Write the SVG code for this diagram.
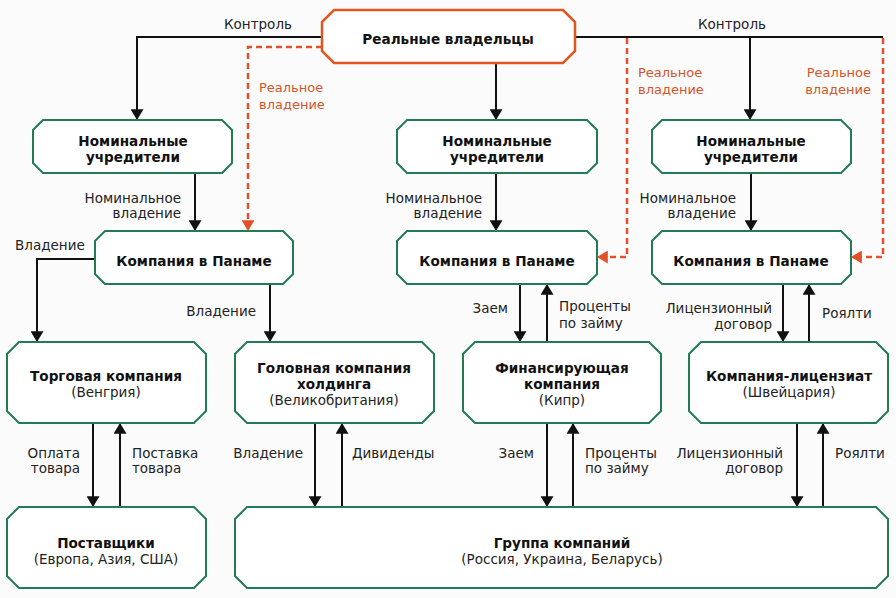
<svg xmlns="http://www.w3.org/2000/svg" width="896" height="598" viewBox="0 0 896 598">
<defs>
<style>
.bg{fill:#fbfbfb}
.node{fill:#ffffff;stroke:#237a57;stroke-width:2}
.top{fill:#ffffff;stroke:#e0561f;stroke-width:2.5}
.t{font-family:"DejaVu Sans",sans-serif;font-size:13.6px;font-weight:bold;fill:#111;text-anchor:middle}
.s{font-family:"DejaVu Sans",sans-serif;font-size:13.5px;fill:#222;text-anchor:middle}
.l{font-family:"DejaVu Sans",sans-serif;font-size:13.5px;fill:#222}
.r{text-anchor:end}
.red{font-family:"DejaVu Sans",sans-serif;font-size:13px;fill:#d2552a}
.c{fill:none;stroke:#111;stroke-width:2}
.d{fill:none;stroke:#e0502a;stroke-width:2.5;stroke-dasharray:6 4}
</style>
<marker id="a" viewBox="0 0 10 12" markerWidth="11" markerHeight="13" refX="10" refY="6" orient="auto" markerUnits="userSpaceOnUse">
<path d="M0,0 L10,6 L0,12 Z" fill="#111"/>
</marker>
<marker id="ar" viewBox="0 0 10 12" markerWidth="11" markerHeight="13" refX="10" refY="6" orient="auto" markerUnits="userSpaceOnUse">
<path d="M0,0 L10,6 L0,12 Z" fill="#e0502a"/>
</marker>
</defs>
<rect class="bg" x="0" y="0" width="896" height="598"/>

<g id="connectors">
<path class="c" d="M322,37 H137 V120" marker-end="url(#a)"/>
<path class="c" d="M575,37 H883"/>
<path class="c" d="M750,37 V120" marker-end="url(#a)"/>
<path class="c" d="M496,63 V120" marker-end="url(#a)"/>
<path class="d" d="M322,47 H248 V231" marker-end="url(#ar)"/>
<path class="d" d="M627,38 V257 H597" marker-end="url(#ar)"/>
<path class="d" d="M883,38 V257 H851" marker-end="url(#ar)"/>
<path class="c" d="M195,173 V231" marker-end="url(#a)"/>
<path class="c" d="M496,173 V231" marker-end="url(#a)"/>
<path class="c" d="M751,173 V231" marker-end="url(#a)"/>
<path class="c" d="M95,259 H37 V342" marker-end="url(#a)"/>
<path class="c" d="M270,284 V342" marker-end="url(#a)"/>
<path class="c" d="M520,284 V342" marker-end="url(#a)"/>
<path class="c" d="M547,342 V284" marker-end="url(#a)"/>
<path class="c" d="M783,284 V342" marker-end="url(#a)"/>
<path class="c" d="M809,342 V284" marker-end="url(#a)"/>
<path class="c" d="M93,423 V507" marker-end="url(#a)"/>
<path class="c" d="M120,507 V423" marker-end="url(#a)"/>
<path class="c" d="M315,423 V507" marker-end="url(#a)"/>
<path class="c" d="M342,507 V423" marker-end="url(#a)"/>
<path class="c" d="M547,423 V507" marker-end="url(#a)"/>
<path class="c" d="M573,507 V423" marker-end="url(#a)"/>
<path class="c" d="M797,423 V507" marker-end="url(#a)"/>
<path class="c" d="M823,507 V423" marker-end="url(#a)"/>

<text class="s" x="258" y="29">Контроль</text>
<text class="s" x="732" y="29">Контроль</text>
<text class="red" x="259" y="92">Реальное</text>
<text class="red" x="259" y="109">владение</text>
<text class="red" x="638" y="77">Реальное</text>
<text class="red" x="638" y="94">владение</text>
<text class="red r" x="871" y="77" text-anchor="end">Реальное</text>
<text class="red r" x="871" y="94" text-anchor="end">владение</text>
<text class="l r" x="181" y="203">Номинальное</text>
<text class="l r" x="181" y="218">владение</text>
<text class="l r" x="482" y="203">Номинальное</text>
<text class="l r" x="482" y="218">владение</text>
<text class="l r" x="736" y="203">Номинальное</text>
<text class="l r" x="736" y="218">владение</text>
<text class="l" x="15" y="250">Владение</text>
<text class="l r" x="256" y="316">Владение</text>
<text class="l r" x="508" y="313">Заем</text>
<text class="l" x="559" y="311">Проценты</text>
<text class="l" x="559" y="328">по займу</text>
<text class="l r" x="772" y="313">Лицензионный</text>
<text class="l r" x="772" y="329">договор</text>
<text class="l" x="822" y="318">Роялти</text>
<text class="l r" x="80" y="458">Оплата</text>
<text class="l r" x="80" y="473">товара</text>
<text class="l" x="132" y="458">Поставка</text>
<text class="l" x="132" y="473">товара</text>
<text class="l r" x="303" y="458">Владение</text>
<text class="l" x="352" y="458">Дивиденды</text>
<text class="l r" x="534" y="458">Заем</text>
<text class="l" x="585" y="458">Проценты</text>
<text class="l" x="585" y="473">по займу</text>
<text class="l r" x="783" y="458">Лицензионный</text>
<text class="l r" x="783" y="473">договор</text>
<text class="l" x="835" y="458">Роялти</text>
</g>

<g id="owners">
<path class="top" d="M334,10 H563 L575,22 V51 L563,63 H334 L322,51 V22 Z"/>
<text class="t" x="448" y="44">Реальные владельцы</text>
</g>
<g id="nominal1">
<path class="node" d="M43,120 H222 L232,130 V163 L222,173 H43 L33,163 V130 Z"/>
<text class="t" x="133" y="146">Номинальные</text>
<text class="t" x="133" y="162">учредители</text>
</g>
<g id="nominal2">
<path class="node" d="M407,120 H587 L597,130 V163 L587,173 H407 L397,163 V130 Z"/>
<text class="t" x="497" y="146">Номинальные</text>
<text class="t" x="497" y="162">учредители</text>
</g>
<g id="nominal3">
<path class="node" d="M662,120 H841 L851,130 V163 L841,173 H662 L652,163 V130 Z"/>
<text class="t" x="751" y="146">Номинальные</text>
<text class="t" x="751" y="162">учредители</text>
</g>
<g id="panama1">
<path class="node" d="M105,231 H283 L293,241 V274 L283,284 H105 L95,274 V241 Z"/>
<text class="t" x="194" y="266">Компания в Панаме</text>
</g>
<g id="panama2">
<path class="node" d="M407,231 H587 L597,241 V274 L587,284 H407 L397,274 V241 Z"/>
<text class="t" x="497" y="266">Компания в Панаме</text>
</g>
<g id="panama3">
<path class="node" d="M662,231 H841 L851,241 V274 L841,284 H662 L652,274 V241 Z"/>
<text class="t" x="751" y="266">Компания в Панаме</text>
</g>
<g id="trading">
<path class="node" d="M19,342 H194 L206,354 V411 L194,423 H19 L7,411 V354 Z"/>
<text class="t" x="106" y="381">Торговая компания</text>
<text class="s" x="106" y="397">(Венгрия)</text>
</g>
<g id="holding">
<path class="node" d="M247,342 H422 L434,354 V411 L422,423 H247 L235,411 V354 Z"/>
<text class="t" x="334" y="373">Головная компания</text>
<text class="t" x="334" y="389">холдинга</text>
<text class="s" x="334" y="405">(Великобритания)</text>
</g>
<g id="financing">
<path class="node" d="M475,342 H649 L661,354 V411 L649,423 H475 L463,411 V354 Z"/>
<text class="t" x="562" y="373">Финансирующая</text>
<text class="t" x="562" y="389">компания</text>
<text class="s" x="562" y="405">(Кипр)</text>
</g>
<g id="licensee">
<path class="node" d="M701,342 H876 L888,354 V411 L876,423 H701 L689,411 V354 Z"/>
<text class="t" x="789" y="381">Компания-лицензиат</text>
<text class="s" x="789" y="397">(Швейцария)</text>
</g>
<g id="suppliers">
<path class="node" d="M19,507 H194 L206,519 V576 L194,588 H19 L7,576 V519 Z"/>
<text class="t" x="106" y="548">Поставщики</text>
<text class="s" x="106" y="564">(Европа, Азия, США)</text>
</g>
<g id="group">
<path class="node" d="M247,507 H876 L888,519 V576 L876,588 H247 L235,576 V519 Z"/>
<text class="t" x="562" y="548">Группа компаний</text>
<text class="s" x="562" y="564">(Россия, Украина, Беларусь)</text>
</g>
</svg>
